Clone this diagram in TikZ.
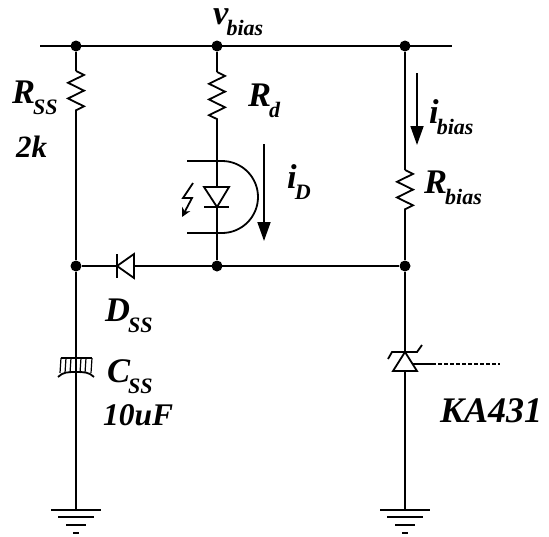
\documentclass[tikz,border=0pt]{standalone}
\usepackage{fontspec}
\setmainfont{Liberation Serif}
\usetikzlibrary{arrows.meta, decorations.pathmorphing}

\newcommand{\biglabel}[2][34.5]{{\fontsize{#1}{#1}\selectfont #2}}
\newcommand{\sublabel}[2]{\biglabel{#1}\kern-2pt\raisebox{-11pt}{\fontsize{22}{22}\selectfont #2}}
\tikzset{
  wire/.style={line width=1.8pt},
  thinwire/.style={line width=1.2pt},
  resistor/.style={wire, decorate, decoration={zigzag, amplitude=8pt, segment length=15.7pt}},
  current/.style={wire, -{Triangle[length=19pt, width=13pt]}},
  junction/.style={circle, fill=black, inner sep=0pt, minimum size=11pt},
  lab/.style={anchor=base west, inner sep=0pt, font=\bfseries\itshape},
  ground/.pic={
    \draw[wire] (-25,0) -- (25,0);
    \draw[wire] (-18,7) -- (18,7);
    \draw[wire] (-10,15) -- (10,15);
    \draw[wire] (-3,23) -- (3,23);
  }
}

\begin{document}
\begin{tikzpicture}[x=1pt, y=-1pt]
\useasboundingbox (0,0) rectangle (549,536);
% top and middle rails
\coordinate (railL) at (40,46);
\coordinate (railR) at (452,46);
\node[junction] (topA) at (76,46) {};
\node[junction] (topB) at (217,46) {};
\node[junction] (topC) at (405,46) {};
\node[junction] (midA) at (76,266) {};
\node[junction] (midB) at (217,266) {};
\node[junction] (midC) at (405,266) {};
\draw[wire] (railL) -- (railR);
% R_SS branch
\coordinate (RssT) at (76,71);
\coordinate (RssB) at (76,118);
\draw[wire] (topA) -- (RssT);
\draw[resistor] (RssT) -- (RssB);
\draw[wire] (RssB) -- (midA);
% R_d and the photodiode
\coordinate (RdT) at (217,72);
\coordinate (RdB) at (217,120);
\coordinate (PdT) at (217,187);
\coordinate (PdK) at (217,207);
\draw[wire] (topB) -- (RdT);
\draw[resistor] (RdT) -- (RdB);
\draw[wire] (RdB) -- (PdT);
\draw[wire] (PdK) -- (midB);
\draw[wire] (204,187) -- (229,187) -- (PdK) -- cycle;
\draw[wire] (204,207) -- (229,207);
\draw[wire] (187,161) -- (222,161) arc[start angle=-90, end angle=90, radius=36] -- (187,233);
\draw[wire, -{Stealth[length=9pt, width=9pt]}] (193,183) -- (183,198) -- (192,198) -- (182,217);
% R_bias branch
\coordinate (RbT) at (405,170);
\coordinate (RbB) at (405,216);
\draw[wire] (topC) -- (RbT);
\draw[resistor] (RbT) -- (RbB);
\draw[wire] (RbB) -- (midC);
% D_SS on the middle rail
\coordinate (DssA) at (134,266);
\coordinate (DssK) at (117,266);
\draw[wire] (midC) -- (DssA);
\draw[wire] (DssK) -- (midA);
\draw[wire] (134,254) -- (134,278) -- (DssK) -- cycle;
\draw[wire] (117,254) -- (117,278);
% C_SS
\coordinate (CssT) at (76,358);
\coordinate (CssB) at (76,372);
\coordinate (gndA) at (76,510);
\draw[wire] (midA) -- (CssT);
\draw[wire] (CssB) -- (gndA);
\draw[wire] (61,358) -- (92,358);
\draw[wire] (58,377) .. controls (63,372) and (68,372) .. (CssB) .. controls (84,372) and (89,372) .. (94,377);
\draw[thinwire] (CssT) -- (CssB);
\foreach \x in {61,66,71,81,86,92}
  \draw[thinwire] (\x,358) -- (\x-1,373);
% KA431
\coordinate (ZnT) at (405,352);
\coordinate (ZnB) at (405,371);
\coordinate (gndC) at (405,510);
\coordinate (ZnG) at (413,364);
\coordinate (ZnS) at (432,364);
\coordinate (ZnE) at (500,364);
\draw[wire] (midC) -- (ZnT);
\draw[wire] (ZnB) -- (gndC);
\draw[wire] (393,371) -- (417,371) -- (ZnT) -- cycle;
\draw[wire] (388,359) -- (392,352) -- (417,352) -- (422,345);
\draw[wire] (ZnG) -- (ZnS);
\draw[wire, dash pattern=on 4pt off 2pt] (ZnS) -- (ZnE);
\pic at (gndA) {ground};
\pic at (gndC) {ground};
% current arrows
\coordinate (iDa) at (264,144);
\coordinate (iDb) at (264,241);
\coordinate (iBa) at (417,73);
\coordinate (iBb) at (417,145);
\draw[current] (iDa) -- (iDb);
\draw[current] (iBa) -- (iBb);
% labels
\node[lab] (vbias) at (213,24) {\sublabel{v}{bias}};
\node[lab] (Rss) at (12,103) {\sublabel{R}{SS}};
\node[lab] (Rssv) at (16,157) {\biglabel[31]{2k}};
\node[lab] (Rd) at (248,106) {\sublabel{R}{d}};
\node[lab] (iD) at (287,188) {\sublabel{i}{D}};
\node[lab] (ibias) at (429,123) {\sublabel{i}{bias}};
\node[lab] (Rbias) at (424,193) {\sublabel{R}{bias}};
\node[lab] (Dss) at (105,321) {\sublabel{D}{SS}};
\node[lab] (Css) at (107,382) {\sublabel{C}{SS}};
\node[lab] (Cssv) at (103,425) {\biglabel[31.5]{10uF}};
\node[lab] (ka) at (440,422) {\biglabel[36]{KA431}};
\end{tikzpicture}
\end{document}
